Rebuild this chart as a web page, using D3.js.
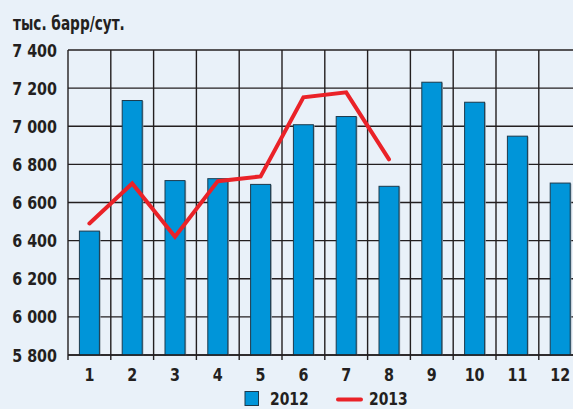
<!DOCTYPE html>
<html><head><meta charset="utf-8">
<script src="https://cdn.jsdelivr.net/npm/d3@7"></script>
<style>
html,body{margin:0;padding:0;background:#e9f1f9;}
svg{display:block;}
text{font-family:"DejaVu Sans Condensed","DejaVu Sans",sans-serif;font-weight:bold;fill:#231f20;font-stretch:condensed;}
</style></head><body>
<script>
const months = ["1","2","3","4","5","6","7","8","9","10","11","12"];
const values2012 = [6450, 7135, 6715, 6725, 6695, 7008, 7051, 6685, 7231, 7126, 6948, 6702];
const values2013 = [6490, 6700, 6420, 6712, 6737, 7152, 7178, 6826];
const yTicks = [5800, 6000, 6200, 6400, 6600, 6800, 7000, 7200, 7400];
const unitLabel = "тыс. барр/сут.";
const seriesNames = ["2012", "2013"];

const W = 573, H = 409;
const svg = d3.select("body").append("svg").attr("width", W).attr("height", H);
svg.append("rect").attr("width", W).attr("height", H).attr("fill", "#e9f1f9");

const x = d3.scaleBand().domain(months).range([68, 68 + 12 * 42.8]).padding(0);
const y = d3.scaleLinear().domain([5800, 7400]).range([355, 50]);
const fmt = v => d3.format(",")(v).replace(",", " ");

const grid = svg.append("g").attr("stroke", "#231f20").attr("stroke-width", 1.4);
grid.selectAll("line.h").data(yTicks).enter().append("line")
  .attr("x1", 68).attr("x2", W + 10).attr("y1", d => y(d)).attr("y2", d => y(d));
grid.selectAll("line.v").data(months).enter().append("line")
  .attr("x1", d => x(d)).attr("x2", d => x(d)).attr("y1", y(7400)).attr("y2", y(5800) + 5);

const bw = 20;
svg.append("g").selectAll("rect.shadow").data(values2012).enter().append("rect")
  .attr("x", (d, i) => x.bandwidth() / 2 + x(months[i]) - bw / 2 + 1.2)
  .attr("y", d => y(d) + 0.5)
  .attr("width", bw).attr("height", d => y(5800) - y(d))
  .attr("fill", "#9aa6b0");
svg.append("g").selectAll("rect.bar").data(values2012).enter().append("rect")
  .attr("x", (d, i) => x.bandwidth() / 2 + x(months[i]) - bw / 2)
  .attr("y", d => y(d))
  .attr("width", bw).attr("height", d => y(5800) - y(d))
  .attr("fill", "#0095d9").attr("stroke", "#1d3a4c").attr("stroke-width", 1);

svg.append("line").attr("x1", 68).attr("x2", W + 10).attr("y1", y(5800)).attr("y2", y(5800))
  .attr("stroke", "#231f20").attr("stroke-width", 1.6);

const line = d3.line().x((d, i) => x(months[i]) + x.bandwidth() / 2).y(d => y(d));
svg.append("path").datum(values2013).attr("d", line)
  .attr("fill", "none").attr("stroke", "#ea2228").attr("stroke-width", 4)
  .attr("stroke-linejoin", "miter").attr("stroke-linecap", "round");

function label(g, tx, ty, size, sx, anchor, txt) {
  return g.append("text")
    .attr("transform", `translate(${tx},${ty}) scale(${sx},1)`)
    .attr("text-anchor", anchor).attr("font-size", size).text(txt);
}

const yl = svg.append("g");
yTicks.forEach(v => label(yl, 57, y(v) + 6.6, 18.5, 0.86, "end", fmt(v)));

const xl = svg.append("g");
months.forEach(m => label(xl, x(m) + x.bandwidth() / 2, 380.5, 18.5, 0.86, "middle", m));

label(svg, 13, 30, 19.5, 0.78, "start", unitLabel);

svg.append("rect").attr("x", 245).attr("y", 391.5).attr("width", 13.5).attr("height", 14)
  .attr("fill", "#0095d9").attr("stroke", "#1d3a4c").attr("stroke-width", 1);
label(svg, 270, 404.5, 18, 0.86, "start", seriesNames[0]);
svg.append("line").attr("x1", 338).attr("x2", 361).attr("y1", 399.5).attr("y2", 399.5)
  .attr("stroke", "#ea2228").attr("stroke-width", 4).attr("stroke-linecap", "round");
label(svg, 369, 404.5, 18, 0.86, "start", seriesNames[1]);
</script>
</body></html>
